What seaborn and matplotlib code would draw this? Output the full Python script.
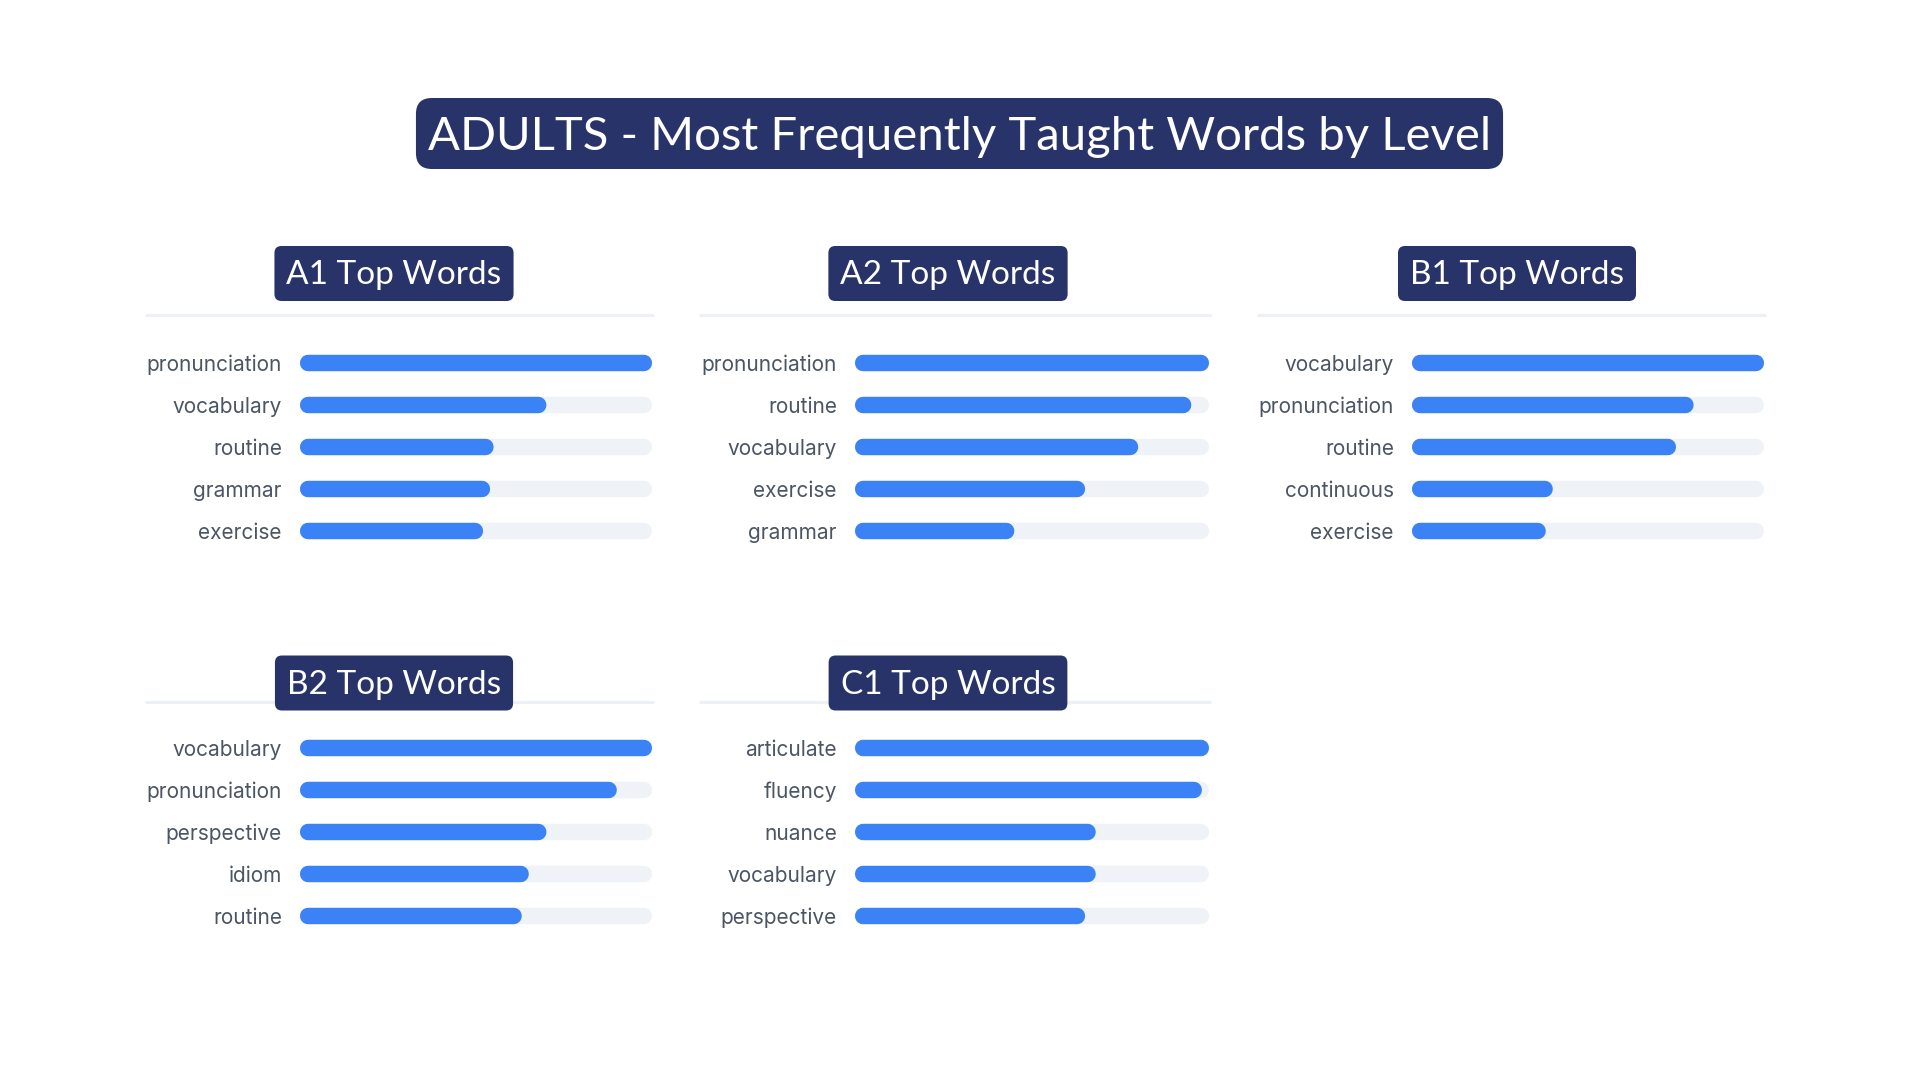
import matplotlib
matplotlib.use("Agg")
import matplotlib.pyplot as plt
import seaborn as sns
import pandas as pd
from matplotlib.patches import FancyBboxPatch
from matplotlib.lines import Line2D
from matplotlib.transforms import Affine2D

# ---- data (relative frequency, top word = 100) ----
title = "ADULTS - Most Frequently Taught Words by Level"

a1_words = ["pronunciation", "vocabulary", "routine", "grammar", "exercise"]
a1_vals = [100, 70, 55, 54, 52]

a2_words = ["pronunciation", "routine", "vocabulary", "exercise", "grammar"]
a2_vals = [100, 95, 80, 65, 45]

b1_words = ["vocabulary", "pronunciation", "routine", "continuous", "exercise"]
b1_vals = [100, 80, 75, 40, 38]

b2_words = ["vocabulary", "pronunciation", "perspective", "idiom", "routine"]
b2_vals = [100, 90, 70, 65, 63]

c1_words = ["articulate", "fluency", "nuance", "vocabulary", "perspective"]
c1_vals = [100, 98, 68, 68, 65]

panel_titles = ["A1 Top Words", "A2 Top Words", "B1 Top Words", "B2 Top Words", "C1 Top Words"]

# ---- style ----
NAVY = "#283469"
BLUE = "#3B82F6"
TRACK = "#EFF3F8"
DIVIDER = "#EDF1F6"
LABEL = "#4B5563"

W, H = 1920, 1080
BAR_PX = 16
STEP = 42

sns.set_theme(style="white")
plt.rcParams["font.family"] = ["Lato", "DejaVu Sans"]

fig = plt.figure(figsize=(W / 100, H / 100), dpi=100)
fig.patch.set_facecolor("white")

# pixel coords, y measured from the top
px = Affine2D().scale(1 / W, -1 / H).translate(0, 1) + fig.transFigure
renderer = fig.canvas.get_renderer()


def label_box(cx, cy, text, size, h, padx, radius, nudge):
    t = fig.text(cx, cy + nudge, text, transform=px, ha="center", va="center",
                 color="white", fontsize=size, zorder=5)
    bb = t.get_window_extent(renderer)
    w = bb.width + 2 * padx
    box = FancyBboxPatch((cx - w / 2, cy - h / 2), w, h,
                         boxstyle=f"round,pad=0,rounding_size={radius}",
                         transform=px, facecolor=NAVY, edgecolor="none", zorder=4)
    fig.add_artist(box)


def panel(words, vals, name, track, divider, head_cx, head_cy, div_y, row0):
    x0, x1 = track
    fig.add_artist(Line2D(divider, [div_y, div_y], transform=px,
                          color=DIVIDER, lw=2.2, zorder=1))
    label_box(head_cx, head_cy, name, 24, 55, 12, 7, 2)

    top = row0 - STEP / 2
    ax = fig.add_axes([x0 / W, 1 - (top + 5 * STEP) / H, (x1 - x0) / W, 5 * STEP / H])
    df = pd.DataFrame({"word": words, "value": vals})
    df["full"] = max(vals)
    lw = BAR_PX * 0.72
    sns.barplot(data=df, x="full", y="word", orient="h", color=TRACK,
                edgecolor=TRACK, linewidth=lw, width=0.01, saturation=1,
                errorbar=None, ax=ax)
    sns.barplot(data=df, x="value", y="word", orient="h", color=BLUE,
                edgecolor=BLUE, linewidth=lw, width=0.01, saturation=1,
                errorbar=None, ax=ax)
    ax.set_xlim(0, max(vals))
    ax.set_ylim(4.5, -0.5)
    # round caps sit inside the bar length
    cap = (BAR_PX / 2) * max(vals) / (x1 - x0)
    for p in ax.patches:
        p.set_x(p.get_x() + cap)
        p.set_width(max(p.get_width() - 2 * cap, 0))
        p.set_joinstyle("round")
        p.set_snap(False)
        p.set_clip_on(False)
    ax.set_xlabel("")
    ax.set_ylabel("")
    ax.set_xticks([])
    ax.tick_params(axis="y", length=0, pad=13)
    for lab in ax.get_yticklabels():
        lab.set_fontfamily(["Inter", "DejaVu Sans"])
        lab.set_fontsize(15)
        lab.set_color(LABEL)
    sns.despine(ax=ax, left=True, bottom=True)
    ax.set_facecolor("none")


# title
label_box(959.5, 133.5, title, 34, 71, 12, 16, 3)

panel(a1_words, a1_vals, panel_titles[0], (300, 652), (146, 653), 394, 273.5, 315, 363)
panel(a2_words, a2_vals, panel_titles[1], (855, 1209), (700, 1210), 948, 273.5, 315, 363)
panel(b1_words, b1_vals, panel_titles[2], (1412, 1764), (1258, 1765), 1517, 273.5, 315, 363)
panel(b2_words, b2_vals, panel_titles[3], (300, 652), (146, 653), 394, 683, 702, 748)
panel(c1_words, c1_vals, panel_titles[4], (855, 1209), (700, 1210), 948, 683, 702, 748)

fig.savefig("out.png", dpi=100, facecolor="white")
